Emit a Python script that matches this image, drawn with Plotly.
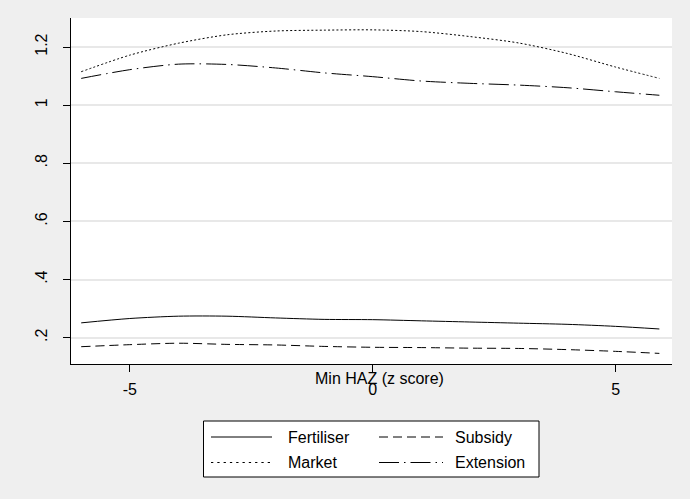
import plotly.graph_objects as go

# Smoothed estimates against minimum height-for-age z score
haz = [-6, -5, -4, -3, -2, -1, 0, 1, 2, 3, 4, 5, 5.9]
fertiliser = [0.251, 0.266, 0.274, 0.274, 0.268, 0.263, 0.262, 0.258, 0.254, 0.250, 0.246, 0.239, 0.230]
subsidy = [0.169, 0.176, 0.181, 0.177, 0.175, 0.170, 0.167, 0.166, 0.164, 0.163, 0.159, 0.153, 0.146]
market = [1.115, 1.172, 1.213, 1.242, 1.255, 1.258, 1.259, 1.253, 1.236, 1.214, 1.178, 1.131, 1.092]
extension = [1.092, 1.122, 1.141, 1.140, 1.128, 1.111, 1.098, 1.083, 1.075, 1.069, 1.060, 1.046, 1.034]

series_names = ["Fertiliser", "Subsidy", "Market", "Extension"]
y_ticks = [0.2, 0.4, 0.6, 0.8, 1.0, 1.2]
y_tick_text = [".2", ".4", ".6", ".8", "1", "1.2"]
x_ticks = [-5, 0, 5]
x_tick_text = ["-5", "0", "5"]
x_title = "Min HAZ (z score)"

FONT = "Liberation Sans, Arial, sans-serif"
W, H = 690, 499
L, R, T, B = 71, 672, 18, 364  # plot area in pixels

dash_styles = {
    "Fertiliser": "solid",
    "Subsidy": "9px,5px",
    "Market": "2px,2.2px",
    "Extension": "20px,5px,1.5px,5px",
}
legend_dash = {
    "Fertiliser": "solid",
    "Subsidy": "9px,5px",
    "Market": "2.3px,4px",
    "Extension": "20px,5px,1.5px,5px",
}

values = {"Fertiliser": fertiliser, "Subsidy": subsidy, "Market": market, "Extension": extension}

fig = go.Figure()
for name in series_names:
    fig.add_trace(go.Scatter(
        x=haz, y=values[name], mode="lines", name=name,
        line=dict(color="black", width=1, dash=dash_styles[name], shape="spline", smoothing=0.8),
        showlegend=False,
    ))


def px_x(p):
    return (p - L) / (R - L)


def px_y(p):
    return (B - p) / (B - T)


shapes = [
    dict(type="rect", xref="paper", yref="paper",
         x0=px_x(203.5), x1=px_x(539), y0=px_y(421), y1=px_y(477),
         line=dict(color="black", width=1), fillcolor="white", layer="above"),
]
annotations = [
    dict(text=x_title, xref="paper", yref="paper", x=px_x(379), y=px_y(378),
         xanchor="center", yanchor="middle", showarrow=False,
         font=dict(family=FONT, size=16, color="black")),
]

# Two-column legend: (sample start, sample end, text start, row centre)
slots = [(211, 272, 286, 437), (379, 443, 453, 437), (211, 272, 286, 462.5), (379, 443, 453, 462.5)]
for name, (sx0, sx1, tx, ry) in zip(["Fertiliser", "Subsidy", "Market", "Extension"], slots):
    shapes.append(dict(type="line", xref="paper", yref="paper",
                       x0=px_x(sx0), x1=px_x(sx1), y0=px_y(ry), y1=px_y(ry),
                       line=dict(color="black", width=1, dash=legend_dash[name]), layer="above"))
    annotations.append(dict(text=name, xref="paper", yref="paper", x=px_x(tx), y=px_y(ry),
                            xanchor="left", yanchor="middle", showarrow=False,
                            font=dict(family=FONT, size=16, color="black")))

fig.update_layout(
    width=W, height=H,
    margin=dict(l=L, r=W - R, t=T, b=H - B, pad=0),
    paper_bgcolor="#efefef", plot_bgcolor="white",
    font=dict(family=FONT, size=16, color="black"),
    shapes=shapes, annotations=annotations,
    showlegend=False,
)
fig.update_xaxes(
    range=[-6.21, 6.16], tickvals=x_ticks, ticktext=x_tick_text,
    showgrid=False, zeroline=False, showline=True, linecolor="black", linewidth=1,
    ticks="outside", ticklen=7, tickcolor="black", tickwidth=1,
    ticklabelstandoff=4, tickfont=dict(family=FONT, size=16, color="black"),
)
fig.update_yaxes(
    range=[0.1095, 1.2998], tickvals=y_ticks, ticktext=y_tick_text, tickangle=-90,
    showgrid=True, gridcolor="#e8e8e8", gridwidth=1.5,
    zeroline=False, showline=True, linecolor="black", linewidth=1,
    ticks="outside", ticklen=7, tickcolor="black", tickwidth=1,
    ticklabelstandoff=10, tickfont=dict(family=FONT, size=16, color="black"),
)

fig.write_html("out.html")
